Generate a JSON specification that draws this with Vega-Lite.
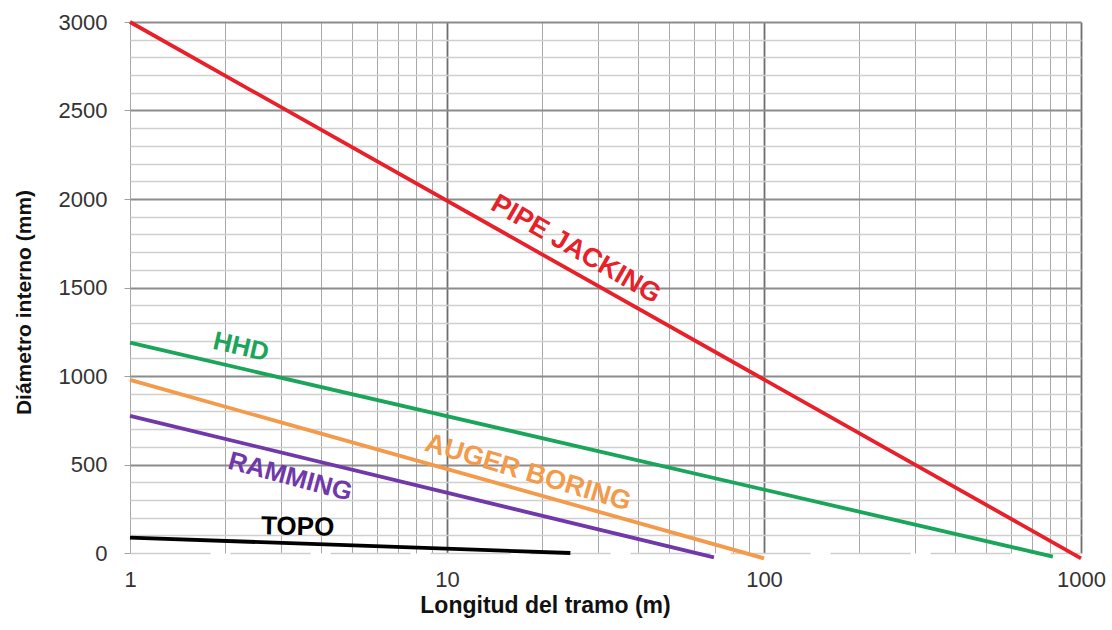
{
  "$schema": "https://vega.github.io/schema/vega-lite/v6.json",
  "width": 951,
  "height": 531,
  "autosize": {"type": "none"},
  "padding": {"left": 130, "top": 22, "right": 31, "bottom": 77},
  "background": "white",
  "config": {
    "view": {"stroke": null},
    "font": "Liberation Sans"
  },
  "datasets": {
    "lines": [
      {"series": "PIPE JACKING", "x": 1, "y": 3000},
      {"series": "PIPE JACKING", "x": 1000, "y": -30},
      {"series": "HHD", "x": 1, "y": 1188},
      {"series": "HHD", "x": 815, "y": -20},
      {"series": "AUGER BORING", "x": 1, "y": 978},
      {"series": "AUGER BORING", "x": 100, "y": -30},
      {"series": "RAMMING", "x": 1, "y": 775},
      {"series": "RAMMING", "x": 69.5, "y": -25},
      {"series": "TOPO", "x": 1, "y": 87},
      {"series": "TOPO", "x": 24.5, "y": 0}
    ],
    "labels": [
      {"series": "PIPE JACKING", "x": 25.5, "y": 1715},
      {"series": "HHD", "x": 2.24, "y": 1164},
      {"series": "AUGER BORING", "x": 18.0, "y": 453},
      {"series": "RAMMING", "x": 3.2, "y": 430},
      {"series": "TOPO", "x": 3.38, "y": 147}
    ]
  },
  "encoding": {
    "x": {
      "field": "x", "type": "quantitative",
      "scale": {"type": "log", "domain": [1, 1000], "nice": false},
      "axis": {
        "title": "Longitud del tramo (m)",
        "titleFont": "Liberation Sans", "titleFontSize": 23, "titleFontWeight": "bold", "titleColor": "#111",
        "titlePadding": 4,
        "titleX": 415, "titleAlign": "center",
        "values": [1,2,3,4,5,6,7,8,9,10,20,30,40,50,60,70,80,90,100,200,300,400,500,600,700,800,900,1000],
        "labelExpr": "(datum.value == 1 || datum.value == 10 || datum.value == 100 || datum.value == 1000) ? datum.label : ''",
        "format": "d",
        "labelFont": "Liberation Sans", "labelFontSize": 22, "labelColor": "#333", "labelPadding": 16,
        "labelFlush": false, "labelOverlap": false,
        "domain": false, "ticks": false,
        "grid": true,
        "gridColor": {"condition": {"test": "datum.value == 10 || datum.value == 100 || datum.value == 1000", "value": "#6e6e6e"}, "value": "#a8a8a8"},
        "gridWidth": {"condition": {"test": "datum.value == 10 || datum.value == 100 || datum.value == 1000", "value": 1.8}, "value": 1},
        "gridOpacity": 1
      }
    },
    "y": {
      "field": "y", "type": "quantitative",
      "scale": {"domain": [0, 3000], "nice": false, "zero": false},
      "axis": {
        "title": "Diámetro interno (mm)",
        "titleFont": "Liberation Sans", "titleFontSize": 21, "titleFontWeight": "bold", "titleColor": "#111",
        "titlePadding": 24,
        "titleY": 280, "titleAlign": "center",
        "values": [0,100,200,300,400,500,600,700,800,900,1000,1100,1200,1300,1400,1500,1600,1700,1800,1900,2000,2100,2200,2300,2400,2500,2600,2700,2800,2900,3000],
        "labelExpr": "datum.value % 500 == 0 ? datum.label : ''",
        "format": "d",
        "labelFont": "Liberation Sans", "labelFontSize": 22, "labelColor": "#333", "labelPadding": 17,
        "labelFlush": false, "labelOverlap": false,
        "domain": false,
        "ticks": true, "tickSize": 6,
        "tickColor": "#a0a0a0",
        "tickOpacity": {"condition": {"test": "datum.value % 500 == 0", "value": 1}, "value": 0},
        "grid": true,
        "gridColor": {"condition": {"test": "datum.value % 500 == 0 && datum.value > 0", "value": "#8c8c8c"}, "value": "#cfcfcf"},
        "gridWidth": {"condition": {"test": "datum.value % 500 == 0 && datum.value > 0", "value": 2}, "value": 1.5},
        "gridDash": {"condition": {"test": "datum.value == 0", "value": [80, 20]}, "value": []},
        "gridOpacity": 1
      }
    },
    "color": {
      "field": "series", "type": "nominal",
      "scale": {
        "domain": ["PIPE JACKING", "HHD", "AUGER BORING", "RAMMING", "TOPO"],
        "range": ["#e8202a", "#1aa55a", "#f39a4b", "#7038a8", "#000000"]
      },
      "legend": null
    }
  },
  "layer": [
    {
      "data": {"name": "lines"},
      "mark": {"type": "line", "strokeWidth": 3.8, "clip": false},
      "encoding": {"detail": {"field": "series"}}
    },
    {
      "data": {"name": "labels"},
      "transform": [{"filter": "datum.series == 'PIPE JACKING'"}],
      "mark": {"type": "text", "angle": 30, "fontSize": 27, "fontWeight": "bold", "font": "Liberation Sans"},
      "encoding": {"text": {"field": "series"}}
    },
    {
      "data": {"name": "labels"},
      "transform": [{"filter": "datum.series == 'HHD'"}],
      "mark": {"type": "text", "angle": 13, "fontSize": 26, "fontWeight": "bold", "font": "Liberation Sans"},
      "encoding": {"text": {"field": "series"}}
    },
    {
      "data": {"name": "labels"},
      "transform": [{"filter": "datum.series == 'AUGER BORING'"}],
      "mark": {"type": "text", "angle": 16.5, "fontSize": 27, "fontWeight": "bold", "font": "Liberation Sans"},
      "encoding": {"text": {"field": "series"}}
    },
    {
      "data": {"name": "labels"},
      "transform": [{"filter": "datum.series == 'RAMMING'"}],
      "mark": {"type": "text", "angle": 15, "fontSize": 26, "fontWeight": "bold", "font": "Liberation Sans"},
      "encoding": {"text": {"field": "series"}}
    },
    {
      "data": {"name": "labels"},
      "transform": [{"filter": "datum.series == 'TOPO'"}],
      "mark": {"type": "text", "angle": 1, "fontSize": 26, "fontWeight": "bold", "font": "Liberation Sans"},
      "encoding": {"text": {"field": "series"}}
    }
  ]
}
